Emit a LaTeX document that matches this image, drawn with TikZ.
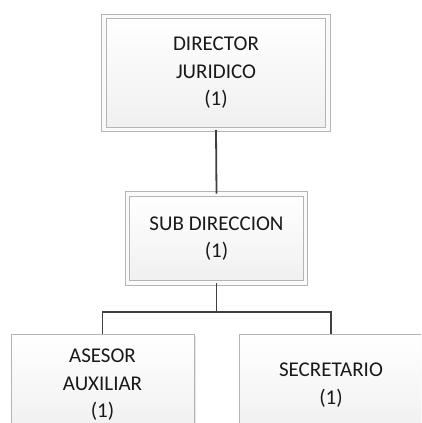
\documentclass[tikz,border=0pt]{standalone}
\usepackage{fontspec}
\setmainfont{Carlito}
\usepackage{tikz}
\usetikzlibrary{shadows}
\definecolor{boxline}{HTML}{B4B4B4}
\definecolor{linkline}{HTML}{404040}
\tikzstyle{cargo} = [rectangle,align=center,text=black!90,font=\fontsize{21}{27.5}\selectfont,top color=white,bottom color=gray!12,drop shadow={shadow xshift=1.5pt,shadow yshift=-1.5pt,fill=gray!40,opacity=0.5}]
\tikzstyle{jefe} = [cargo,draw=boxline,line width=0.9pt,double=white!96!gray,double distance=3.4pt]
\tikzstyle{staff} = [cargo,draw=boxline,line width=1pt]
\tikzstyle{link} = [draw=linkline,line width=1.8pt]

\begin{document}
\begin{tikzpicture}[x=1pt,y=-1pt]
\useasboundingbox (0,0) rectangle (421,423);
\clip (0,0) rectangle (421,423);
\node (director) [jefe,minimum width=224pt,minimum height=113pt] at (216,73) {DIRECTOR\\JURIDICO\\(1)};
\node (subdir) [jefe,minimum width=178pt,minimum height=89pt] at (216.5,238.5) {SUB DIRECCION\\(1)};
\node (asesor) [staff,minimum width=183pt,minimum height=102pt] at (102.5,385) {ASESOR\\AUXILIAR\\(1)};
\node (secretario) [staff,minimum width=183pt,minimum height=102pt] at (331,385) {SECRETARIO\\(1)};
\coordinate (split) at (216.5,312);

\draw [link] (director.south) -- (subdir.north);
\draw [link] (subdir.south) -- (split) -| (asesor.north);
\draw [link] (split) -| (secretario.north);
\end{tikzpicture}
\end{document}
